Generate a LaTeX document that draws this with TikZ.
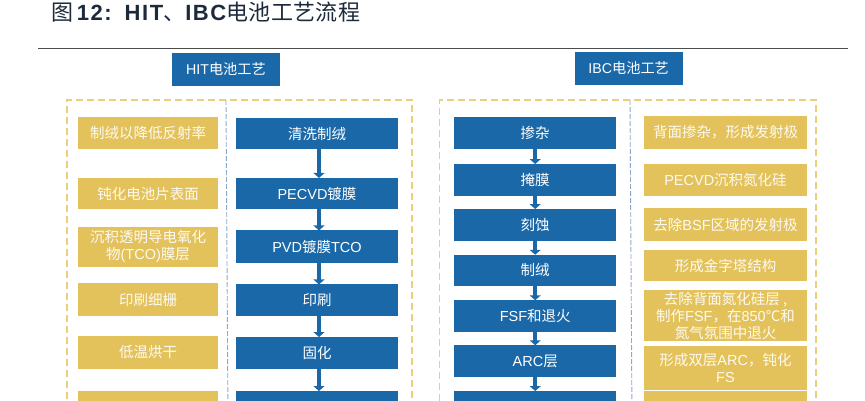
\documentclass[tikz,border=0pt]{standalone}
\usepackage{fontspec}
\usepackage{xcolor}
\setmainfont{Liberation Sans}
\newfontfamily\cjk{Noto Sans CJK SC}
\newfontfamily\titlelatin[LetterSpace=7]{Liberation Sans}
\newfontfamily\titlecjk[LetterSpace=2]{Noto Sans CJK SC}
\newcommand{\zh}[1]{{\cjk #1}}
\newcommand{\tzh}[1]{{\titlecjk\mdseries #1}}
\usetikzlibrary{arrows.meta}
\definecolor{stepblue}{HTML}{1B68A8}
\definecolor{notegold}{HTML}{E3C25B}
\definecolor{dashgold}{HTML}{EBCF7C}
\definecolor{splitgray}{HTML}{8FA9C8}
\definecolor{titlenavy}{HTML}{1C2A3C}
\tikzset{
  stepbox/.style={fill=stepblue,text=white,minimum width=162,inner sep=0,outer sep=0,align=center,font=\fontsize{14.5}{17}\selectfont},
  notebox/.style={fill=notegold,text=white!92!notegold,inner sep=0,outer sep=0,align=center,font=\fontsize{14.5}{17}\selectfont},
  headbox/.style={fill=stepblue,text=white,minimum width=108,minimum height=32.5,inner sep=0,outer sep=0,font=\fontsize{14.2}{17}\selectfont},
  frameline/.style={dashgold,line width=1.2,dash pattern=on 7 off 4},
  splitline/.style={splitgray,line width=0.9,dash pattern=on 5 off 2},
  flowarrow/.style={stepblue,line width=4,-{Triangle[width=11,length=5]}}
}
\begin{document}
\begin{tikzpicture}[x=1pt,y=-1pt]
\clip (0,0) rectangle (865,400);
\fill[white] (0,0) rectangle (865,400);
% title
\node[anchor=base west,inner sep=0,text=titlenavy,font=\fontsize{22}{26}\selectfont\bfseries\titlelatin] (title) at (51,20) {\tzh{图}\,12:\hspace{13pt}HIT\tzh{、}IBC\tzh{电池工艺流程}};
\draw[black!70,line width=1] (38,48) -- (848,48);
% headers
\node[headbox] (hithead) at (226,69.3) {HIT\zh{电池工艺}};
\node[headbox] (ibchead) at (628.7,68.3) {IBC\zh{电池工艺}};
% dashed frames
\draw[frameline] (412,420) -- (412,100) -- (67,100) -- (67,420);
\draw[frameline] (816,420) -- (816,100) -- (439.5,100) -- (439.5,420);
\draw[splitline] (226,100) -- (228,420);
\draw[splitline] (630,100) -- (632,420);
% HIT notes
\node[notebox,minimum width=140,minimum height=32.5] (hitnote1) at (148,133.2) {\zh{制绒以降低反射率}};
\node[notebox,minimum width=140,minimum height=31.5] (hitnote2) at (148,193.7) {\zh{钝化电池片表面}};
\node[notebox,minimum width=140,minimum height=40] (hitnote3) at (148,246.5) {\zh{沉积透明导电氧化}\\\zh{物}(TCO)\zh{膜层}};
\node[notebox,minimum width=140,minimum height=32.5] (hitnote4) at (148,299.7) {\zh{印刷细栅}};
\node[notebox,minimum width=140,minimum height=33] (hitnote5) at (148,352.5) {\zh{低温烘干}};
\node[notebox,minimum width=140,minimum height=30] (hitnote6) at (148,406) {};
% HIT steps
\node[stepbox,minimum height=31.5] (hitstep1) at (317,133.7) {\zh{清洗制绒}};
\node[stepbox,minimum height=31.5] (hitstep2) at (317,193.7) {PECVD\zh{镀膜}};
\node[stepbox,minimum height=32.5] (hitstep3) at (317,246.7) {PVD\zh{镀膜}TCO};
\node[stepbox,minimum height=31.5] (hitstep4) at (317,300.2) {\zh{印刷}};
\node[stepbox,minimum height=32] (hitstep5) at (317,353) {\zh{固化}};
\node[stepbox,minimum height=30] (hitstep6) at (317,406) {};
\draw[flowarrow] ([xshift=2]hitstep1.south) -- ([xshift=2]hitstep2.north);
\draw[flowarrow] ([xshift=2]hitstep2.south) -- ([xshift=2]hitstep3.north);
\draw[flowarrow] ([xshift=2]hitstep3.south) -- ([xshift=2]hitstep4.north);
\draw[flowarrow] ([xshift=2]hitstep4.south) -- ([xshift=2]hitstep5.north);
\draw[flowarrow] ([xshift=2]hitstep5.south) -- ([xshift=2]hitstep6.north);
% IBC steps
\node[stepbox,minimum height=32] (ibcstep1) at (535.2,133) {\zh{掺杂}};
\node[stepbox,minimum height=32] (ibcstep2) at (535.2,180) {\zh{掩膜}};
\node[stepbox,minimum height=32] (ibcstep3) at (535.2,225) {\zh{刻蚀}};
\node[stepbox,minimum height=31.5] (ibcstep4) at (535.2,270.5) {\zh{制绒}};
\node[stepbox,minimum height=31.5] (ibcstep5) at (535.2,316) {FSF\zh{和退火}};
\node[stepbox,minimum height=31.5] (ibcstep6) at (535.2,361) {ARC\zh{层}};
\node[stepbox,minimum height=30] (ibcstep7) at (535.2,406) {};
\draw[flowarrow] (ibcstep1) -- (ibcstep2);
\draw[flowarrow] (ibcstep2) -- (ibcstep3);
\draw[flowarrow] (ibcstep3) -- (ibcstep4);
\draw[flowarrow] (ibcstep4) -- (ibcstep5);
\draw[flowarrow] (ibcstep5) -- (ibcstep6);
\draw[flowarrow] (ibcstep6) -- (ibcstep7);
% IBC notes
\node[notebox,minimum width=163,minimum height=33] (ibcnote1) at (725.5,132.5) {\zh{背面掺杂^^^^ff0c形成发射极}};
\node[notebox,minimum width=163,minimum height=32] (ibcnote2) at (725.5,180) {PECVD\zh{沉积氮化硅}};
\node[notebox,minimum width=163,minimum height=33] (ibcnote3) at (725.5,224.5) {\zh{去除}BSF\zh{区域的发射极}};
\node[notebox,minimum width=163,minimum height=31.5] (ibcnote4) at (725.5,265.7) {\zh{形成金字塔结构}};
\node[notebox,minimum width=163,minimum height=51.5] (ibcnote5) at (725.5,315.7) {\zh{去除背面氮化硅层 ,}\\\zh{制作}FSF\zh{^^^^ff0c在}850\zh{℃和}\\\zh{氮气氛围中退火}};
\node[notebox,minimum width=163,minimum height=43.5] (ibcnote6) at (725.5,368) {\zh{形成双层}ARC\zh{^^^^ff0c钝化}\\FS};
\node[notebox,minimum width=163,minimum height=30] (ibcnote7) at (725.5,406) {};
\end{tikzpicture}
\end{document}
